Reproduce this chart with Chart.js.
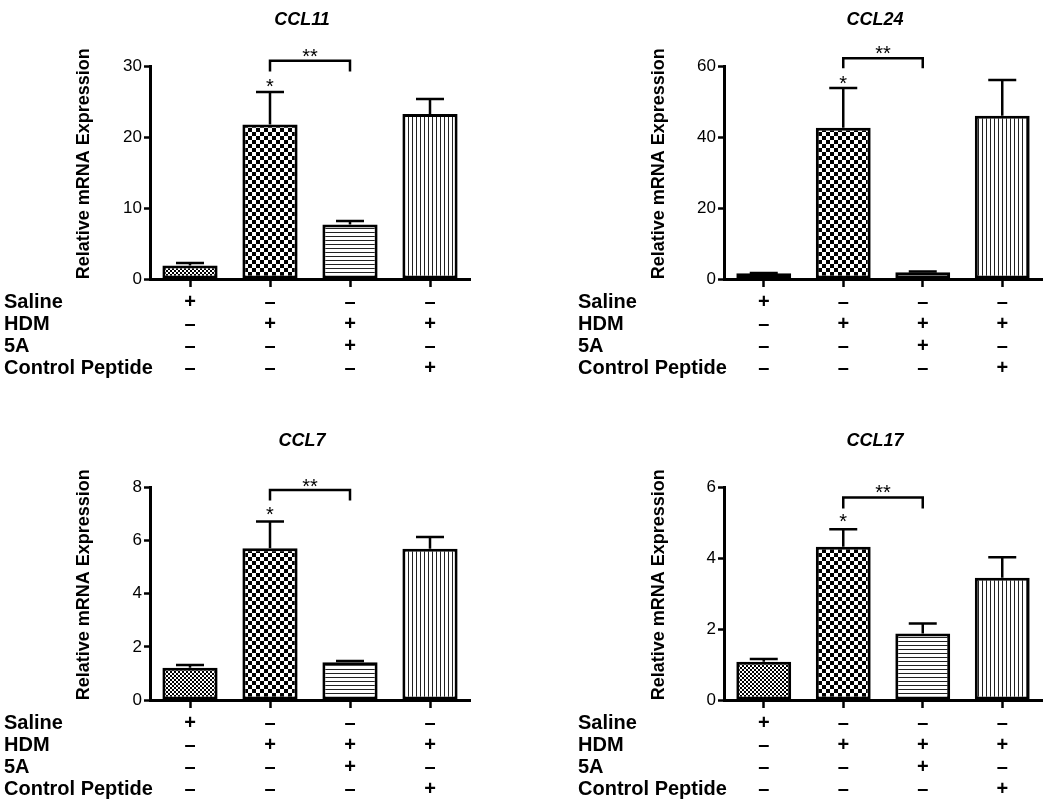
<!DOCTYPE html>
<html lang="en">
  <head>
    <meta charset="UTF-8" />
    <title>Relative mRNA Expression</title>
    <style>
      body { margin: 0; background: #fff; overflow: hidden; }
      canvas { position: absolute; }
    </style>
    <script src="https://cdn.jsdelivr.net/npm/chart.js"></script>
  </head>
  <body>
    <canvas id="ccl11" width="525" height="385" style="left: 0; top: 0"></canvas>
    <canvas id="ccl24" width="476" height="385" style="left: 574px; top: 0"></canvas>
    <canvas id="ccl7" width="525" height="385" style="left: 0; top: 421px"></canvas>
    <canvas id="ccl17" width="476" height="385" style="left: 574px; top: 421px"></canvas>
    <script>
      // treatment table under each panel
      var rowNames = ["Saline", "HDM", "5A", "Control Peptide"];
      var saline = ["+", "–", "–", "–"];
      var hdm = ["–", "+", "+", "+"];
      var fiveA = ["–", "–", "+", "–"];
      var controlPeptide = ["–", "–", "–", "+"];

      // mean and SEM per group
      var ccl11Mean = [1.9, 21.8, 7.7, 23.3];
      var ccl11Sem = [0.35, 4.6, 0.5, 2.1];
      var ccl24Mean = [1.6, 42.7, 1.9, 46.1];
      var ccl24Sem = [0.1, 11.2, 0.2, 10.1];
      var ccl7Mean = [1.21, 5.71, 1.42, 5.69];
      var ccl7Sem = [0.11, 1.01, 0.05, 0.45];
      var ccl17Mean = [1.08, 4.33, 1.88, 3.45];
      var ccl17Sem = [0.08, 0.49, 0.28, 0.58];

      // significance bracket HDM vs 5A: [bracket top, leg end], stars: ["**", "*"]
      var ccl11Bracket = [30.8, 29.3];
      var ccl11Stars = [32.1, 27.8];
      var ccl24Bracket = [62.3, 59.5];
      var ccl24Stars = [64.9, 56.5];
      var ccl7Bracket = [7.91, 7.51];
      var ccl7Stars = [8.22, 7.16];
      var ccl17Bracket = [5.72, 5.41];
      var ccl17Stars = [5.98, 5.16];

      var FONT = "'Liberation Sans', Arial, sans-serif";
      var yTitle = "Relative mRNA Expression";

      var labels = saline.map(function (s, i) {
        return [saline[i], hdm[i], fiveA[i], controlPeptide[i]];
      });

      function makePattern(size, draw) {
        var c = document.createElement("canvas");
        c.width = size;
        c.height = size;
        var g = c.getContext("2d");
        g.fillStyle = "#fff";
        g.fillRect(0, 0, size, size);
        g.fillStyle = "#000";
        draw(g);
        return g.createPattern(c, "repeat");
      }

      var fills = [
        makePattern(4, function (g) {
          g.fillRect(0, 0, 2, 2);
          g.fillRect(2, 2, 2, 2);
        }),
        makePattern(8, function (g) {
          g.fillRect(0, 0, 4, 4);
          g.fillRect(4, 4, 4, 4);
        }),
        makePattern(4, function (g) {
          g.fillStyle = "#222";
          g.fillRect(0, 0, 4, 1);
        }),
        makePattern(4, function (g) {
          g.fillStyle = "#222";
          g.fillRect(0, 0, 1, 4);
        }),
      ];

      var panelPlugin = {
        id: "panel",
        afterDatasetsDraw: function (chart, args, opts) {
          var ctx = chart.ctx;
          var x = chart.scales.x;
          var y = chart.scales.y;
          var area = chart.chartArea;
          var mean = chart.data.datasets[0].data;
          ctx.save();
          ctx.strokeStyle = "#000";
          ctx.fillStyle = "#000";

          // error bars (upper only)
          ctx.lineWidth = 2.5;
          opts.sem.forEach(function (s, i) {
            var px = x.getPixelForValue(i);
            var y0 = y.getPixelForValue(mean[i]);
            var y1 = y.getPixelForValue(mean[i] + s);
            ctx.beginPath();
            ctx.moveTo(px, y0);
            ctx.lineTo(px, y1);
            ctx.moveTo(px - 14, y1);
            ctx.lineTo(px + 14, y1);
            ctx.stroke();
          });

          // bracket HDM vs 5A
          var xa = x.getPixelForValue(1);
          var xb = x.getPixelForValue(2);
          var top = y.getPixelForValue(opts.bracket[0]);
          var leg = y.getPixelForValue(opts.bracket[1]);
          ctx.lineWidth = 2.5;
          ctx.beginPath();
          ctx.moveTo(xa, leg);
          ctx.lineTo(xa, top);
          ctx.lineTo(xb, top);
          ctx.lineTo(xb, leg);
          ctx.stroke();

          ctx.font = "20px " + FONT;
          ctx.textAlign = "center";
          ctx.textBaseline = "alphabetic";
          ctx.fillText("**", (xa + xb) / 2, y.getPixelForValue(opts.stars[0]) + 11);
          ctx.fillText("*", xa, y.getPixelForValue(opts.stars[1]) + 11);

          // panel title
          ctx.font = "italic bold 18px " + FONT;
          ctx.textBaseline = "middle";
          ctx.fillText(opts.title, (area.left + area.right) / 2 - 8, area.top - 46);

          // y axis title
          ctx.save();
          ctx.translate(opts.titleX, (area.top + area.bottom) / 2 - 9);
          ctx.rotate(-Math.PI / 2);
          ctx.font = "bold 18px " + FONT;
          ctx.fillText(yTitle, 0, 0);
          ctx.restore();

          // row names of the treatment table
          var tickOpts = x.options.ticks;
          var lineH = 22.2;
          var first = area.bottom + x.options.grid.tickLength + tickOpts.padding + lineH / 2;
          ctx.font = "bold 20px " + FONT;
          ctx.textAlign = "left";
          rowNames.forEach(function (name, k) {
            ctx.fillText(name, 4, first + k * lineH);
          });
          ctx.restore();
        },
      };

      function buildChart(id, title, mean, sem, max, step, bracket, stars, padRight, titleX) {
        return new Chart(document.getElementById(id), {
          type: "bar",
          data: {
            labels: labels,
            datasets: [
              {
                data: mean,
                backgroundColor: fills,
                borderColor: "#000",
                borderWidth: 3,
                borderSkipped: false,
                barPercentage: 0.69,
                categoryPercentage: 1,
              },
            ],
          },
          options: {
            responsive: false,
            animation: false,
            events: [],
            layout: { padding: { top: 66.5, right: padRight, bottom: 0, left: 0 } },
            plugins: {
              legend: { display: false },
              tooltip: { enabled: false },
              panel: { title: title, sem: sem, bracket: bracket, stars: stars, titleX: titleX },
            },
            scales: {
              x: {
                offset: true,
                grid: {
                  offset: false,
                  drawOnChartArea: false,
                  tickLength: 8,
                  tickWidth: 2.5,
                  tickColor: "#000",
                },
                border: { color: "#000", width: 3 },
                ticks: {
                  color: "#000",
                  font: { family: FONT, size: 20, weight: "bold", lineHeight: 1.11 },
                  padding: 4,
                  autoSkip: false,
                  maxRotation: 0,
                },
                afterFit: function (s) {
                  s.height = 106;
                },
              },
              y: {
                min: 0,
                max: max,
                ticks: {
                  stepSize: step,
                  color: "#000",
                  font: { family: FONT, size: 17 },
                  padding: 2,
                },
                grid: {
                  drawOnChartArea: false,
                  tickLength: 6,
                  tickWidth: 2.5,
                  tickColor: "#000",
                },
                border: { color: "#000", width: 3 },
                afterFit: function (s) {
                  s.width = 150;
                },
              },
            },
          },
          plugins: [panelPlugin],
        });
      }

      buildChart("ccl11", "CCL11", ccl11Mean, ccl11Sem, 30, 10, ccl11Bracket, ccl11Stars, 55, 84);
      buildChart("ccl24", "CCL24", ccl24Mean, ccl24Sem, 60, 20, ccl24Bracket, ccl24Stars, 8, 85);
      buildChart("ccl7", "CCL7", ccl7Mean, ccl7Sem, 8, 2, ccl7Bracket, ccl7Stars, 55, 84);
      buildChart("ccl17", "CCL17", ccl17Mean, ccl17Sem, 6, 2, ccl17Bracket, ccl17Stars, 8, 85);
    </script>
  </body>
</html>
